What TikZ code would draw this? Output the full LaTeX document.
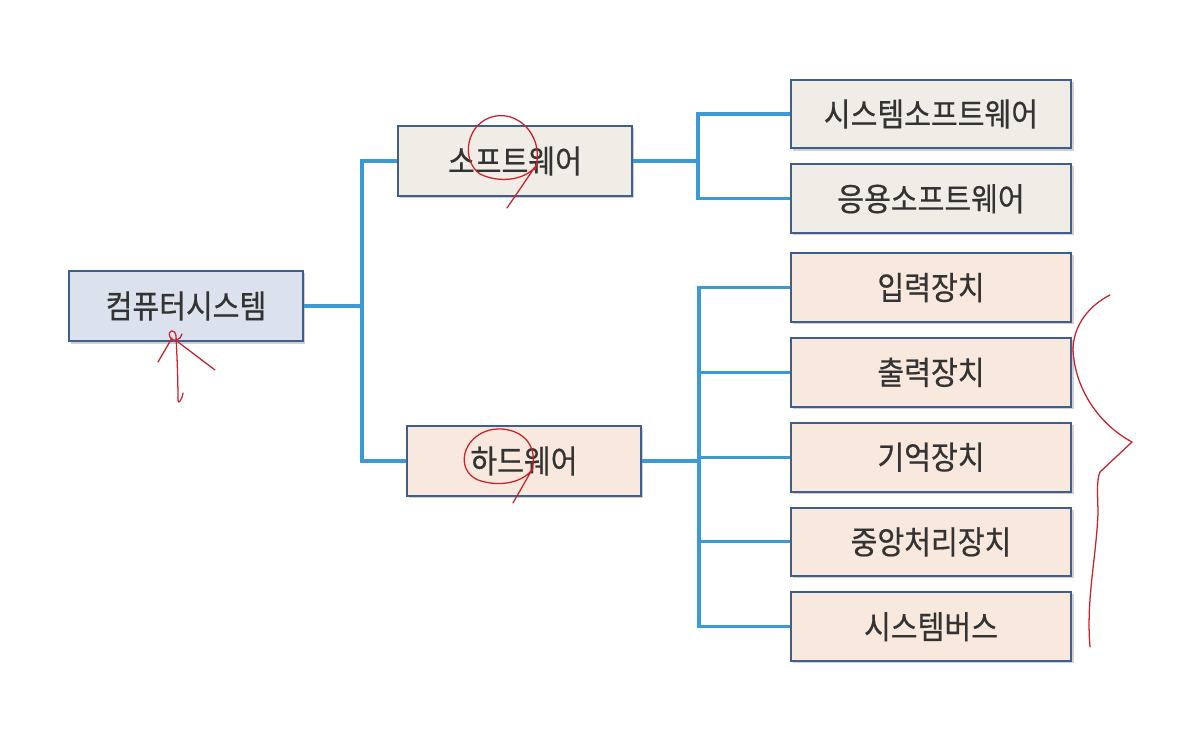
\documentclass[tikz,border=0pt]{standalone}
\usepackage{fontspec}
\usepackage{xcolor}
\usepackage{tikz}
\usetikzlibrary{positioning, shadows}
\newfontfamily\krfont[FakeStretch=0.9, FakeBold=0.5]{Noto Sans CJK KR}
\newcommand{\boxfont}{\krfont\fontsize{23pt}{26pt}\selectfont}
\definecolor{edgeblue}{HTML}{3F5E8C}
\definecolor{linkblue}{HTML}{3C9AD2}
\definecolor{rootfill}{HTML}{DCE2ED}
\definecolor{softfill}{HTML}{EFEDE6}
\definecolor{hardfill}{HTML}{F8E8DD}
\definecolor{inkred}{HTML}{C8232C}
\definecolor{textgray}{HTML}{333333}
\tikzstyle{basebox} = [rectangle, draw=edgeblue, line width=1.4pt, text=textgray, font=\boxfont,
  text centered, drop shadow={shadow xshift=1.5pt, shadow yshift=-1.5pt, opacity=0.3, fill=black!60}]
\tikzstyle{rootbox} = [basebox, fill=rootfill, minimum width=5.85cm, minimum height=1.77cm]
\tikzstyle{softbox} = [basebox, fill=softfill, minimum width=5.85cm, minimum height=1.75cm]
\tikzstyle{hardbox} = [basebox, fill=hardfill, minimum width=5.85cm, minimum height=1.75cm]
\tikzstyle{leafsoft} = [basebox, fill=softfill, minimum width=7.02cm, minimum height=1.72cm]
\tikzstyle{leafhard} = [basebox, fill=hardfill, minimum width=7.02cm, minimum height=1.72cm]
\tikzstyle{link} = [linkblue, line width=2.2pt]
\tikzstyle{redink} = [inkred, line width=0.9pt, line cap=round, line join=round]

\begin{document}
\begin{tikzpicture}[x=0.025cm, y=-0.025cm, node distance=0.35cm]
  \useasboundingbox[fill=white] (0,0) rectangle (1180,740);

  \node (root) [rootbox] at (186,306) {컴퓨터시스템};
  \node (sw)   [softbox] at (515,161) {소프트웨어};
  \node (hw)   [hardbox] at (524,461) {하드웨어};

  \node (syssw)[leafsoft] at (931,114) {시스템소프트웨어};
  \node (appsw)[leafsoft, below=of syssw] {응용소프트웨어};
  \node (inp)  [leafhard, below=0.45cm of appsw] {입력장치};
  \node (outp) [leafhard, below=of inp] {출력장치};
  \node (mem)  [leafhard, below=of outp] {기억장치};
  \node (cpu)  [leafhard, below=of mem] {중앙처리장치};
  \node (bus)  [leafhard, below=of cpu] {시스템버스};

  % tree lines
  \draw[link] (root.east) -- ++(58,0) coordinate (jroot);
  \draw[link] (sw.west) -| (jroot) |- (hw.west);
  \draw[link] (sw.east) -- ++(65,0) coordinate (jsw);
  \draw[link] (syssw.west) -| (jsw) |- (appsw.west);
  \draw[link] (hw.east) -- ++(57,0) coordinate (jhw);
  \draw[link] (inp.west) -| (jhw) |- (bus.west);
  \foreach \n in {outp, mem, cpu}
    \draw[link] (jhw |- \n.west) -- (\n.west);

  % handwritten marks
  \draw[redink] (183,393) .. controls (182,400) and (178,405) .. (178,400)
    .. controls (178,380) and (177,355) .. (176,336)
    .. controls (175,328) and (167,330) .. (170,337)
    .. controls (173,343) and (181,340) .. (182,334);
  \draw[redink] (158,362) -- (172,338);
  \draw[redink] (178,342) -- (215,370);
  \draw[redink] (535,170) .. controls (545,140) and (522,112) .. (496,116)
    .. controls (466,121) and (460,160) .. (480,174)
    .. controls (500,184) and (528,180) .. (537,164) -- (507,208);
  \draw[redink] (532,470) .. controls (540,438) and (512,425) .. (490,430)
    .. controls (462,437) and (455,470) .. (478,480)
    .. controls (500,488) and (525,482) .. (533,468) -- (513,503);
  \draw[redink] (1110,295) .. controls (1090,305) and (1073,325) .. (1073,350)
    .. controls (1075,390) and (1100,425) .. (1132,442) -- (1100,472)
    .. controls (1096,480) and (1098,500) .. (1098,513)
    .. controls (1096,560) and (1086,600) .. (1090,647);
\end{tikzpicture}
\end{document}
